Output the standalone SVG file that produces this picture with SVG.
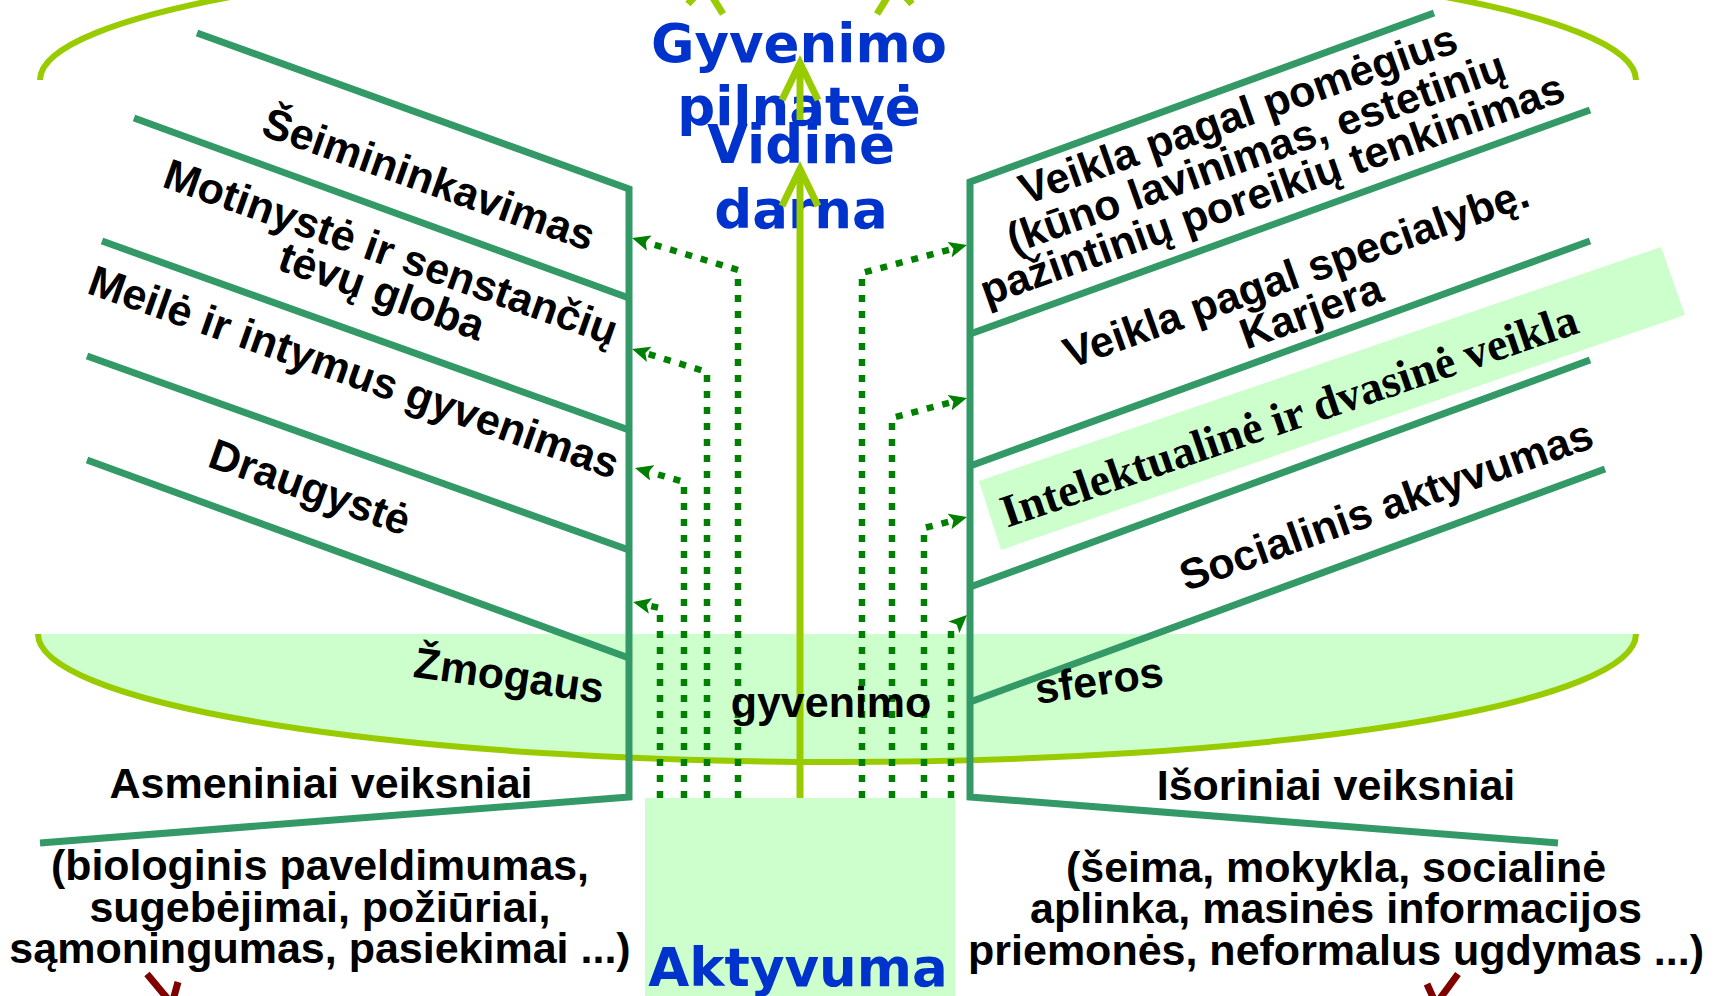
<svg xmlns="http://www.w3.org/2000/svg" width="1719" height="996" viewBox="0 0 1719 996">
<style>
.s{stroke:#339966;stroke-width:7;fill:none;stroke-linejoin:miter}
.y{stroke:#99CC00;stroke-width:6;fill:none}
.ya{stroke:#99CC00;stroke-width:7;fill:none;stroke-linejoin:miter}
.d{stroke:#008000;stroke-width:6.5;fill:none;stroke-dasharray:7 9}
.r{stroke:#800000;stroke-width:7;fill:none}
.t{font-family:"Liberation Sans",Arial,sans-serif;font-weight:bold;font-size:43px;fill:#000;text-anchor:middle}
.b{font-family:"DejaVu Sans",Verdana,sans-serif;font-weight:bold;font-size:53px;fill:#0033CC;text-anchor:middle}
.sf{font-family:"Liberation Serif","Times New Roman",serif;font-weight:bold;font-size:46px;fill:#000;text-anchor:middle}
</style>
<defs>
<marker id="ah" markerUnits="userSpaceOnUse" markerWidth="20" markerHeight="16" refX="8" refY="8" orient="auto">
<path d="M0,0 L18,8 L0,16 L4,8 z" fill="#008000"/>
</marker>
</defs>

<g id="spheres-ellipse">
<path d="M38,634 A799,128 0 0 0 1636,634 Z" fill="#CCFFCC" stroke="none"/>
<path class="y" d="M38,634 A799,128 0 0 0 1636,634"/>
</g>
<g id="top-ellipse">
<path class="y" d="M40,80 A798,128 0 0 1 1636,80"/>
</g>
<g id="intellectual-band">
<polygon points="979,481 1661,247 1685,315 1001,550" fill="#CCFFCC"/>
</g>

<g id="left-frame">
<polyline class="s" points="197,33 629,189 629,797 40,843"/>
<line class="s" x1="134" y1="118" x2="629" y2="298"/>
<line class="s" x1="102" y1="241" x2="629" y2="430"/>
<line class="s" x1="87" y1="356" x2="629" y2="550"/>
<line class="s" x1="87" y1="460" x2="629" y2="658"/>
</g>
<g id="right-frame">
<polyline class="s" points="1434,13 970,182 970,797 1558,843"/>
<line class="s" x1="970" y1="334" x2="1590" y2="110"/>
<line class="s" x1="970" y1="466" x2="1590" y2="241"/>
<line class="s" x1="970" y1="587" x2="1590" y2="360"/>
<line class="s" x1="970" y1="702" x2="1605" y2="469"/>
</g>

<g id="activity-box">
<rect x="645" y="798" width="310" height="198" fill="#CCFFCC"/>
</g>

<g id="inner-harmony">
<text class="b" x="799" y="62">Gyvenimo</text>
<text class="b" x="799" y="125">pilnatvė</text>
<text class="b" x="801" y="163">Vidinė</text>
<text class="b" x="801" y="228">darna</text>
</g>

<g id="connectors">
<path class="d" d="M738,798 L738,270 L641.6,240.9" marker-end="url(#ah)"/>
<path class="d" d="M707,798 L707,372 L641.6,351.9" marker-end="url(#ah)"/>
<path class="d" d="M684,798 L684,482 L644.6,470.7" marker-end="url(#ah)"/>
<path class="d" d="M660,798 L660,608 L642.8,604.2" marker-end="url(#ah)"/>
<path class="d" d="M862,798 L862,273 L957.3,247.6" marker-end="url(#ah)"/>
<path class="d" d="M892,798 L892,418 L957.3,400.6" marker-end="url(#ah)"/>
<path class="d" d="M924,798 L924,528 L957.3,519.5" marker-end="url(#ah)"/>
<path class="d" d="M951,798 L951,630 L959.7,621.8" marker-end="url(#ah)"/>
<line class="ya" x1="800" y1="798" x2="800" y2="172"/>
<polyline class="ya" points="782,206 800,169 818,206"/>
<line class="ya" x1="800" y1="120" x2="800" y2="66"/>
<polyline class="ya" points="782,100 800,63 818,100"/>
<polyline class="ya" points="723,14 705,-15 688,4"/>
<polyline class="ya" points="877,14 895,-15 912,4"/>
<polyline class="r" points="147,974 172,1004 178,982"/>
<polyline class="r" points="1458,974 1436,1004 1427,984"/>
</g>

<g id="activity-label">
<text class="b" x="798" y="986">Aktyvuma</text>
</g>

<g id="family">
<text class="t" transform="translate(424,193) rotate(19.5)">Šeimininkavimas</text>
</g>
<g id="motherhood">
<text class="t" transform="translate(386,266) rotate(19.5)">Motinystė ir senstančių</text>
<text class="t" transform="translate(377,305) rotate(19.5)">tėvų globa</text>
</g>
<g id="love">
<text class="t" transform="translate(349,386) rotate(19.5)">Meilė ir intymus gyvenimas</text>
</g>
<g id="friendship">
<text class="t" transform="translate(305,501) rotate(19.5)">Draugystė</text>
</g>
<g id="hobbies">
<text class="t" transform="translate(1243,128) rotate(-19.5)">Veikla pagal pomėgius</text>
<text class="t" transform="translate(1261,166) rotate(-19.5)">(kūno lavinimas, estetinių</text>
<text class="t" transform="translate(1277,203) rotate(-19.5)">pažintinių poreikių tenkinimas</text>
</g>
<g id="career">
<text class="t" transform="translate(1301,287) rotate(-19.5)">Veikla pagal specialybę.</text>
<text class="t" transform="translate(1316,325) rotate(-19.5)">Karjera</text>
</g>
<g id="intellectual">
<text class="sf" transform="translate(1294,430) rotate(-18.8)">Intelektualinė ir dvasinė veikla</text>
</g>
<g id="social">
<text class="t" transform="translate(1391,519) rotate(-19.5)">Socialinis aktyvumas</text>
</g>
<g id="life-spheres">
<text class="t" transform="translate(507,690) rotate(8)">Žmogaus</text>
<text class="t" x="831" y="717">gyvenimo</text>
<text class="t" transform="translate(1101,695) rotate(-8)">sferos</text>
</g>
<g id="personal-factors">
<text class="t" x="321" y="798">Asmeniniai veiksniai</text>
<text class="t" x="320" y="880" textLength="538" lengthAdjust="spacingAndGlyphs">(biologinis paveldimumas,</text>
<text class="t" x="320" y="922">sugebėjimai, požiūriai,</text>
<text class="t" x="320" y="963">sąmoningumas, pasiekimai ...)</text>
</g>
<g id="external-factors">
<text class="t" x="1336" y="800">Išoriniai veiksniai</text>
<text class="t" x="1336" y="882">(šeima, mokykla, socialinė</text>
<text class="t" x="1336" y="923">aplinka, masinės informacijos</text>
<text class="t" x="1336" y="965">priemonės, neformalus ugdymas ...)</text>
</g>
</svg>
